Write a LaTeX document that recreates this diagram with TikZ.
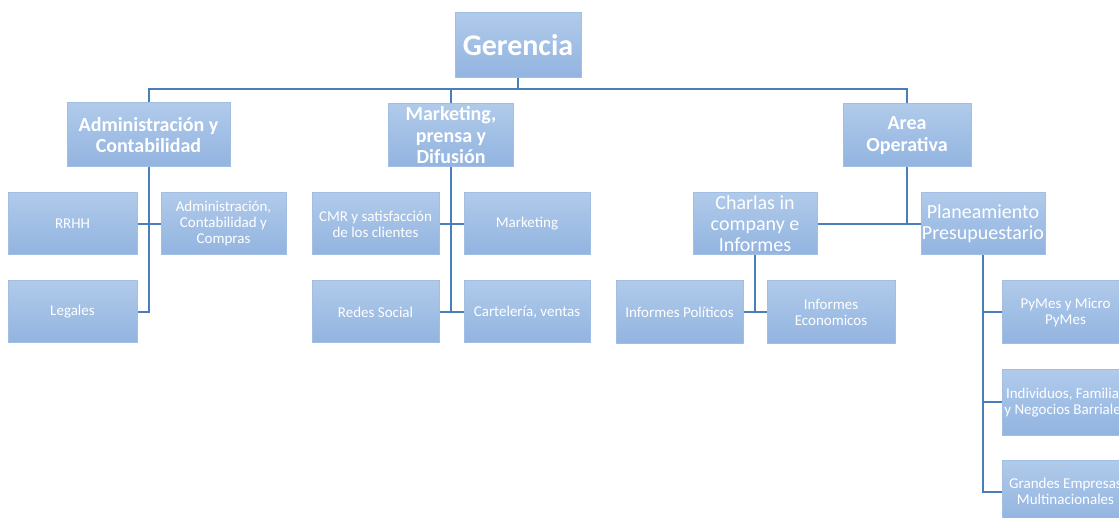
\documentclass[tikz,border=0pt]{standalone}
\usepackage{fontspec}
\setmainfont{Carlito}
\definecolor{boxtop}{HTML}{B0CAEA}
\definecolor{boxbot}{HTML}{92B4E0}
\definecolor{boxline}{HTML}{A2BEE2}
\definecolor{conncol}{HTML}{4A7EBB}
\tikzset{
  orgbox/.style={rectangle, top color=boxtop, bottom color=boxbot, draw=boxline, line width=1pt,
    text=white, align=center, inner sep=0pt, minimum width=127pt, minimum height=62pt,
    font=\fontsize{15}{16}\selectfont},
  headbox/.style={orgbox, font=\fontsize{20}{21.5}\selectfont\bfseries},
  midbox/.style={orgbox, font=\fontsize{20}{21}\selectfont},
  conn/.style={draw=conncol, line width=2pt}
}
\begin{document}
\begin{tikzpicture}[x=1pt,y=-1pt]
\useasboundingbox (0,0) rectangle (1119,518);
\clip (0,0) rectangle (1119,518);
% top
\node[orgbox, minimum width=126pt, minimum height=65pt, font=\fontsize{30}{34}\selectfont\bfseries] (ger) at (518,45.5) {Gerencia};
% second level
\node[headbox, minimum width=163pt, minimum height=64pt] (adm) at (148.5,135) {Administración y\\Contabilidad};
\node[headbox, minimum width=125pt, minimum height=63pt] (mkt) at (451,135.5) {Marketing,\\prensa y\\Difusión};
\node[headbox, minimum width=128pt, minimum height=63pt] (ao) at (907,135.5) {Area\\Operativa};
% admin children
\node[orgbox, minimum width=129pt] (rrhh) at (72.5,224) {RRHH};
\node[orgbox, minimum width=125pt] (acc) at (223.5,224) {Administración,\\Contabilidad y\\Compras};
\node[orgbox, minimum width=129pt] (leg) at (72.5,312) {Legales};
% marketing children
\node[orgbox] (cmr) at (375.5,224) {CMR y satisfacción\\de los clientes};
\node[orgbox, minimum width=126pt] (mk2) at (527,224) {Marketing};
\node[orgbox] (red) at (375.5,312) {Redes Social};
\node[orgbox, minimum width=126pt] (cart) at (527,312) {Cartelería, ventas};
% area operativa children
\node[midbox, minimum width=124pt] (cha) at (755,224) {Charlas in\\company e\\Informes};
\node[midbox, minimum width=124pt] (plan) at (983,224) {Planeamiento\\Presupuestario};
\node[orgbox, minimum height=63pt] (ip) at (679.5,312.5) {Informes Políticos};
\node[orgbox, minimum width=128pt, minimum height=63pt] (ie) at (831,312.5) {Informes\\Economicos};
\node[orgbox, minimum height=63pt] (pym) at (1065.5,312.5) {PyMes y Micro\\PyMes};
\node[orgbox, minimum height=65pt] (ind) at (1065.5,402.5) {Individuos, Familias\\y Negocios Barriales};
\node[orgbox, minimum height=63pt] (gra) at (1065.5,491.5) {Grandes Empresas\\Multinacionales};
% connectors
\coordinate (bus) at (518,89);
\draw[conn] (ger.south) -- (bus);
\draw[conn] (adm.north) |- (bus) -| (ao.north);
\draw[conn] (mkt.north) -- (mkt.north |- bus);
\draw[conn] (adm.south) -- (adm.south |- leg.east) -- (leg.east);
\draw[conn] (rrhh.east) -- (acc.west);
\draw[conn] (mkt.south) -- (mkt.south |- red.east);
\draw[conn] (cmr.east) -- (mk2.west);
\draw[conn] (red.east) -- (cart.west);
\draw[conn] (ao.south) -- (ao.south |- plan.west);
\draw[conn] (cha.east) -- (plan.west);
\draw[conn] (cha.south) -- (cha.south |- ip.east);
\draw[conn] (ip.east) -- (ie.west);
\draw[conn] (plan.south) -- (plan.south |- gra.west) -- (gra.west);
\draw[conn] (plan.south |- pym.west) -- (pym.west);
\draw[conn] (plan.south |- ind.west) -- (ind.west);
\end{tikzpicture}
\end{document}
